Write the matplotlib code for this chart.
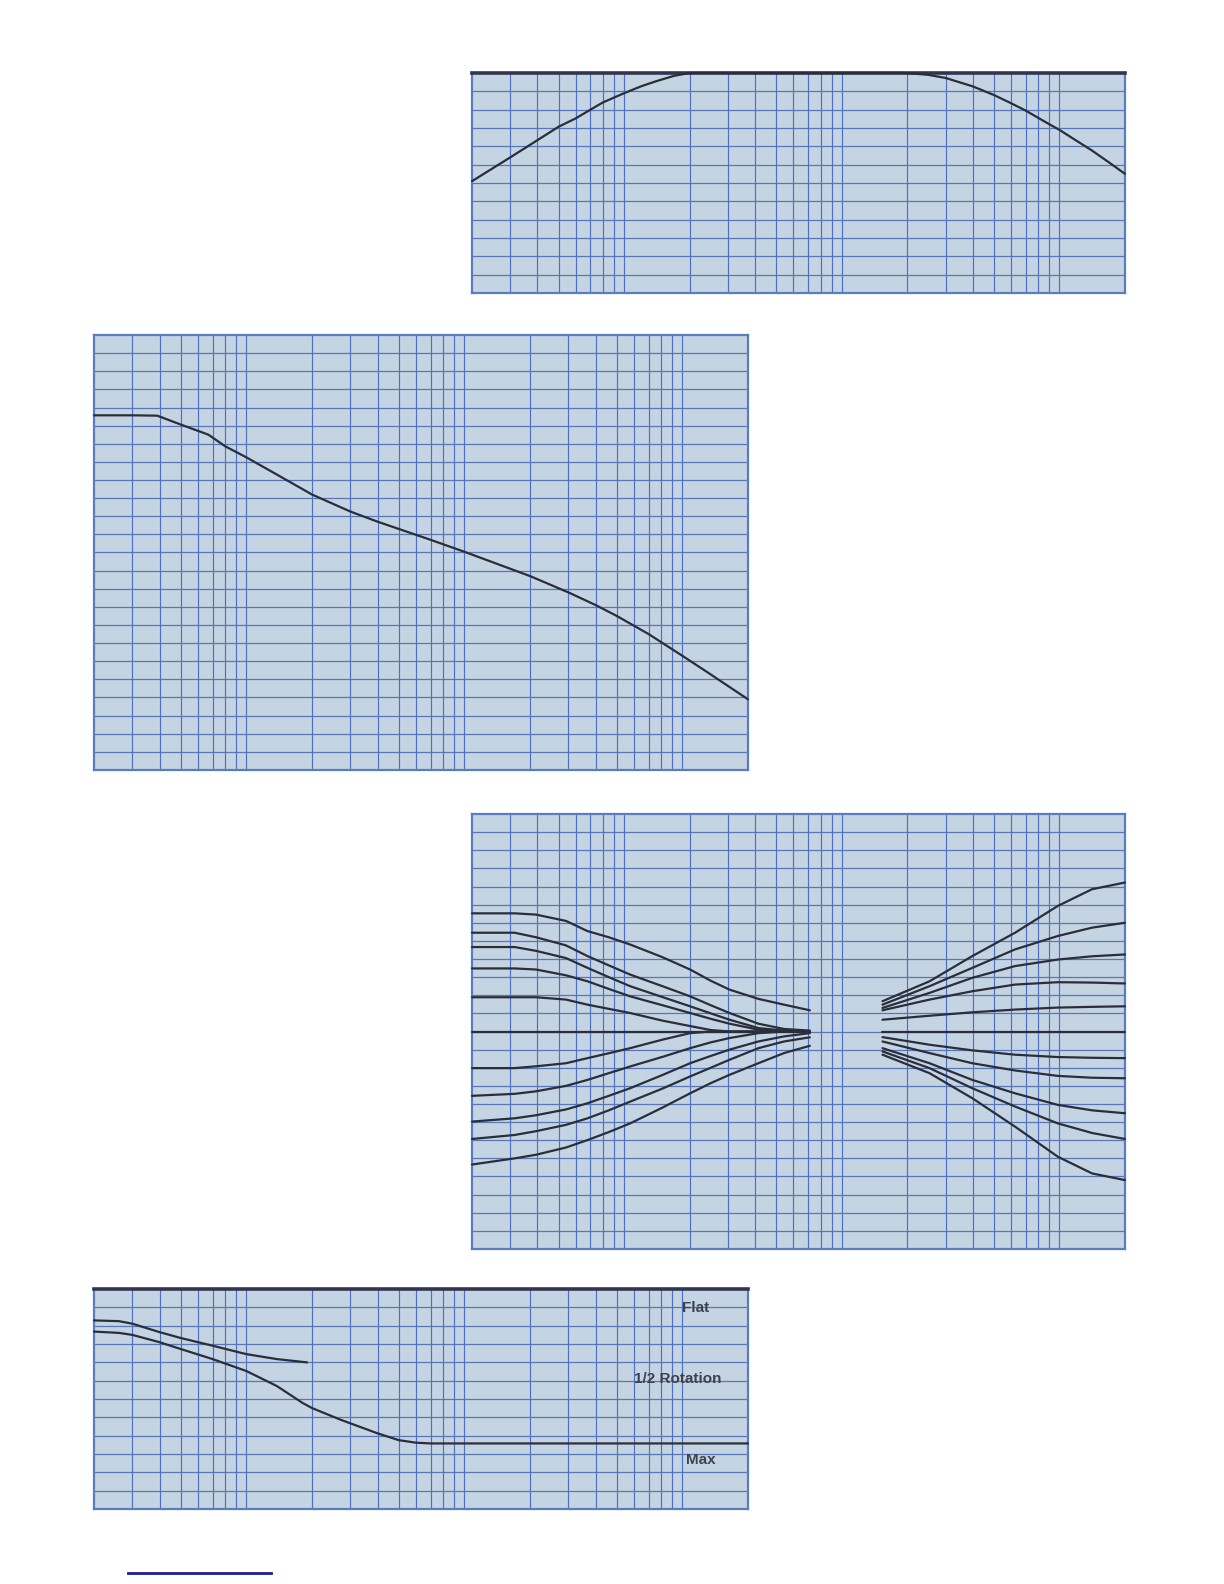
import matplotlib
matplotlib.use("Agg")
from matplotlib import pyplot as plt
from matplotlib.lines import Line2D

# =============================================================================
# data  (frequency in Hz, level in grid divisions)
# =============================================================================

# panel 1: band response, 12 divisions, 0 = top edge
p1_freq = [20, 30, 40, 50, 60, 70, 80, 100, 120, 140, 170, 200,
           2000, 2500, 3000, 4000, 5000, 6000, 7000, 8000, 9000, 10000,
           12000, 14000, 17000, 20000]
p1_level = [-5.9, -4.6, -3.66, -2.93, -2.47, -2.0, -1.6, -1.1, -0.72, -0.45, -0.15, 0.0,
            0.0, -0.1, -0.27, -0.73, -1.2, -1.65, -2.05, -2.45, -2.8, -3.1,
            -3.7, -4.2, -4.9, -5.5]

# panel 2: roll-off, 24 divisions, 0 = top edge
p2_freq = [20, 30, 39, 50, 67, 80, 100, 138, 200, 300, 400, 500, 700, 1000,
           2000, 3000, 4000, 5000, 7000, 10000, 13000, 20000]
p2_level = [-4.43, -4.43, -4.45, -4.94, -5.5, -6.14, -6.75, -7.7, -8.8, -9.74, -10.3,
            -10.7, -11.3, -11.96, -13.3, -14.2, -14.9, -15.5, -16.5, -17.7, -18.6, -20.1]

# panel 3: bass / treble family, 24 divisions, 0 = centre
bass_freq = [20, 31.4, 39.4, 54.1, 67.9, 85, 106.6, 150, 201, 250, 305, 414, 543, 713]
bass_boost = [
    [6.52, 6.52, 6.45, 6.1, 5.54, 5.2, 4.8, 4.1, 3.42, 2.8, 2.31, 1.8, 1.48, 1.17],
    [5.45, 5.45, 5.2, 4.75, 4.16, 3.65, 3.14, 2.5, 1.94, 1.45, 1.02, 0.43, 0.14, 0.05],
    [4.66, 4.66, 4.45, 4.05, 3.51, 3.0, 2.5, 1.9, 1.39, 1.0, 0.65, 0.19, 0.05, 0.0],
    [3.48, 3.48, 3.42, 3.1, 2.77, 2.35, 1.94, 1.45, 1.02, 0.7, 0.43, 0.1, 0.0, 0.0],
    [1.89, 1.89, 1.89, 1.76, 1.48, 1.25, 1.02, 0.6, 0.3, 0.08, 0.0, 0.0, 0.0, 0.0],
]
bass_flat = [0] * 14
bass_cut = [
    [-2.02, -2.02, -1.92, -1.75, -1.47, -1.2, -0.92, -0.45, -0.09, 0.0, 0.0, 0.0, 0.0, 0.0],
    [-3.55, -3.44, -3.3, -3.0, -2.67, -2.3, -1.93, -1.4, -0.92, -0.6, -0.36, -0.09, 0.0, 0.0],
    [-4.97, -4.79, -4.62, -4.3, -3.96, -3.55, -3.13, -2.4, -1.75, -1.35, -1.0, -0.55, -0.27, -0.09],
    [-5.93, -5.71, -5.5, -5.15, -4.79, -4.35, -3.87, -3.15, -2.48, -2.0, -1.56, -0.92, -0.55, -0.32],
    [-7.34, -7.0, -6.8, -6.4, -5.99, -5.55, -5.07, -4.2, -3.41, -2.85, -2.39, -1.75, -1.19, -0.79],
]
treble_freq = [1538, 2530, 3976, 6252, 9832, 14120, 20000]
treble_boost = [
    [1.67, 2.77, 4.16, 5.45, 6.93, 7.85, 8.22],
    [1.48, 2.5, 3.51, 4.53, 5.27, 5.73, 6.0],
    [1.3, 2.13, 2.96, 3.61, 3.97, 4.15, 4.25],
    [1.17, 1.76, 2.22, 2.59, 2.72, 2.7, 2.65],
    [0.65, 0.87, 1.06, 1.21, 1.32, 1.36, 1.39],
]
treble_flat_freq = [1538, 20000]
treble_flat = [0, 0]
treble_cut = [
    [-0.31, -0.73, -1.04, -1.28, -1.41, -1.45, -1.47],
    [-0.55, -1.19, -1.75, -2.15, -2.45, -2.55, -2.58],
    [-0.92, -1.75, -2.67, -3.41, -4.05, -4.35, -4.51],
    [-1.1, -2.02, -3.13, -4.14, -5.07, -5.6, -5.93],
    [-1.28, -2.3, -3.68, -5.25, -6.91, -7.83, -8.2],
]

# panel 4: loudness contour, 12 divisions, 0 = top edge
p4_half_freq = [20, 26, 30, 40, 50, 70, 100, 138, 190]
p4_half_level = [-1.71, -1.75, -1.89, -2.35, -2.67, -3.09, -3.55, -3.82, -4.0]
p4_max_freq = [20, 26, 30, 40, 50, 70, 100, 138, 181, 200, 271, 400, 500, 600,
               700, 1000, 20000]
p4_max_level = [-2.32, -2.39, -2.5, -2.9, -3.27, -3.82, -4.47, -5.29, -6.21, -6.49,
                -7.13, -7.87, -8.24, -8.38, -8.42, -8.42, -8.42]
p4_labels = ["Flat", "1/2 Rotation", "Max"]

# graph paper frequency rulings
grid_freqs = [30, 40, 50, 60, 70, 80, 90,
              100, 200, 300, 400, 500, 600, 700, 800, 900,
              1000, 2000, 3000, 4000, 5000, 6000, 7000, 8000, 9000, 10000]

# =============================================================================
# style
# =============================================================================

PAPER = "#c5d4e3"
VGRID = "#4d70c4"
HGRID = "#5877b4"
EDGE = "#5a7cc0"
INK = "#2a2e3a"
DARK_TOP = "#2e3650"


def graph_paper(rect, ymin, ymax, dark_top=False):
    ax = fig.add_axes(rect)
    ax.set_facecolor(PAPER)
    ax.set_xscale("log")
    ax.set_xlim(20, 20000)
    ax.set_ylim(ymin, ymax)
    for f in grid_freqs:
        ax.axvline(f, color=VGRID, lw=0.85, zorder=1)
    for y in range(int(ymin) + 1, int(ymax)):
        ax.axhline(y, color=HGRID, lw=0.9, zorder=1)
    ax.set_xticks([])
    ax.set_yticks([])
    ax.minorticks_off()
    for side in ax.spines.values():
        side.set_color(EDGE)
        side.set_linewidth(1.6)
    if dark_top:
        ax.spines["top"].set_color(DARK_TOP)
        ax.spines["top"].set_linewidth(2.6)
    return ax


fig = plt.figure(figsize=(12.24, 15.84), dpi=100)
fig.patch.set_facecolor("white")

line_kw = dict(color=INK, lw=1.6, solid_joinstyle="round",
               solid_capstyle="round", zorder=3, clip_on=False)

# panel 1
ax1 = graph_paper([0.3856, 0.8150, 0.5335, 0.1389], -12, 0, dark_top=True)
ax1.plot(p1_freq, p1_level, **line_kw)

# panel 2
ax2 = graph_paper([0.0768, 0.5139, 0.5343, 0.2746], -24, 0)
ax2.plot(p2_freq, p2_level, **line_kw)

# panel 3
ax3 = graph_paper([0.3856, 0.2115, 0.5335, 0.2746], -12, 12)
for lev in bass_boost + [bass_flat] + bass_cut:
    ax3.plot(bass_freq, lev, **line_kw)
for lev in treble_boost + treble_cut:
    ax3.plot(treble_freq, lev, **line_kw)
ax3.plot(treble_flat_freq, treble_flat, **line_kw)

# panel 4
ax4 = graph_paper([0.0768, 0.0473, 0.5343, 0.1389], -12, 0, dark_top=True)
ax4.plot(p4_half_freq, p4_half_level, **line_kw)
ax4.plot(p4_max_freq, p4_max_level, **line_kw)
label_pos = [(0.920, 0.915), (0.893, 0.592), (0.928, 0.225)]
for txt, (lx, ly) in zip(p4_labels, label_pos):
    ax4.text(lx, ly, txt, transform=ax4.transAxes, ha="center", va="center",
             fontsize=11, fontweight="bold", family="Liberation Sans",
             color="#3c424e", zorder=4)

# short rule at page foot
fig.add_artist(Line2D([128 / 1224, 271 / 1224], [1 - 1573 / 1584] * 2,
                      color="#1c1c96", lw=2.0))

plt.savefig("out.png", dpi=100)
